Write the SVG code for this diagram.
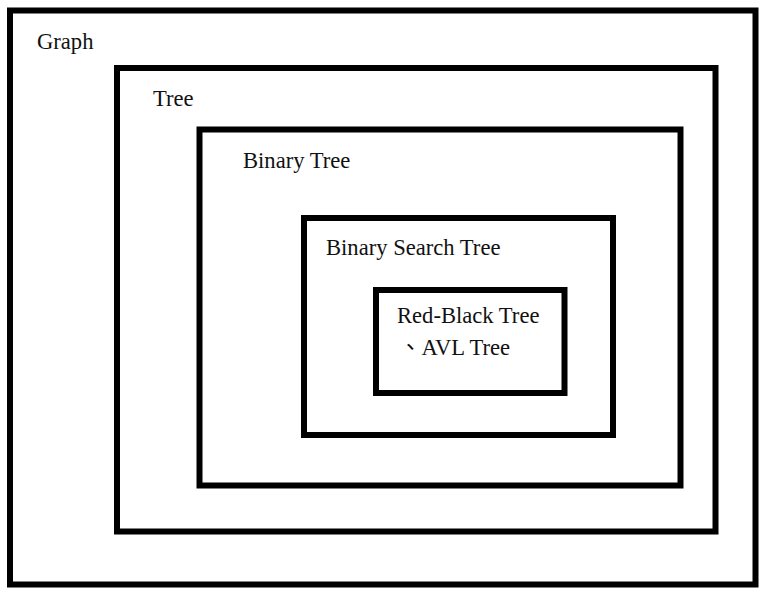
<svg xmlns="http://www.w3.org/2000/svg" width="766" height="591" viewBox="0 0 766 591">
<style>
.box{fill:none;stroke:#000;stroke-width:6}
.lbl{font-family:"Liberation Serif","Noto Sans CJK TC",serif;font-size:22.6px;fill:#111}
</style>
<rect width="766" height="591" fill="#fff"/>
<g id="graph"><rect class="box" x="10" y="10.5" width="745.5" height="574"/><text class="lbl" x="37" y="49">Graph</text></g>
<g id="tree"><rect class="box" x="117" y="68" width="598.5" height="463.5"/><text class="lbl" x="153" y="106">Tree</text></g>
<g id="binary-tree"><rect class="box" x="199.5" y="129.5" width="481" height="356"/><text class="lbl" x="243" y="168">Binary Tree</text></g>
<g id="bst"><rect class="box" x="304" y="218" width="309" height="217"/><text class="lbl" x="326" y="255">Binary Search Tree</text></g>
<g id="rb-avl"><rect class="box" x="376" y="290" width="188.5" height="103"/><text class="lbl" x="397" y="323">Red-Black Tree</text><text class="lbl" x="399" y="355">、AVL Tree</text></g>
<g id="connectors"/>
</svg>
